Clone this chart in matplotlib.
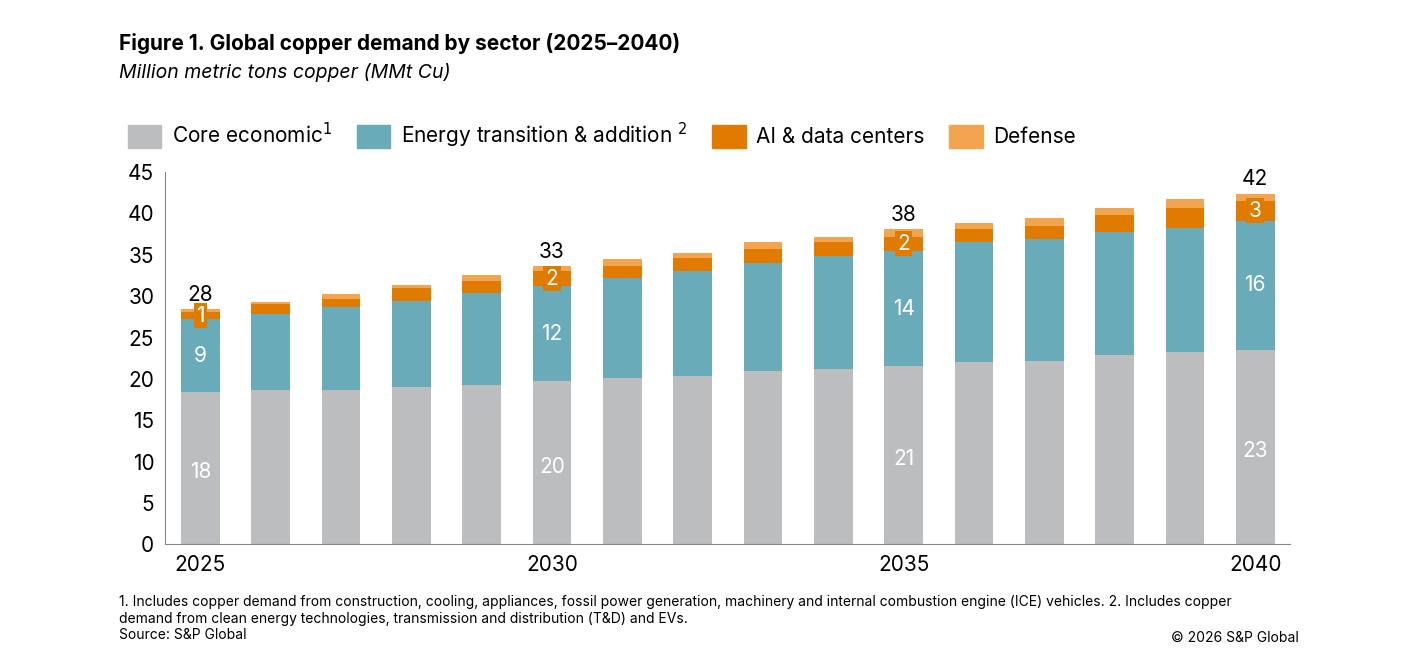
import matplotlib
matplotlib.use("Agg")
import matplotlib.pyplot as plt
import numpy as np

plt.rcParams['font.family'] = ['Inter', 'DejaVu Sans']

years = list(range(2025, 2041))
core = [18.4, 18.6, 18.6, 19.0, 19.2, 19.7, 20.1, 20.4, 20.9, 21.2, 21.5, 22.0, 22.1, 22.9, 23.2, 23.5]
energy = [8.8, 9.2, 10.1, 10.4, 11.2, 11.5, 12.1, 12.6, 13.1, 13.6, 14.0, 14.5, 14.8, 14.8, 15.1, 15.6]
ai = [0.9, 1.2, 1.0, 1.6, 1.4, 1.8, 1.5, 1.6, 1.7, 1.8, 1.7, 1.6, 1.6, 2.1, 2.4, 2.4]
defense = [0.3, 0.3, 0.5, 0.4, 0.7, 0.6, 0.8, 0.6, 0.8, 0.6, 0.9, 0.8, 0.9, 0.8, 1.0, 0.9]
labeled_years = [2025, 2030, 2035, 2040]
core_lbl = ["18", "20", "21", "23"]
energy_lbl = ["9", "12", "14", "16"]
ai_lbl = ["1", "2", "2", "3"]
total_lbl = ["28", "33", "38", "42"]

c_core, c_en, c_ai, c_def = "#BCBDBF", "#6AABBA", "#E07B00", "#F2A54E"

fig = plt.figure(figsize=(14.01, 6.67), dpi=100)
ax = fig.add_axes([0.118, 0.184, 0.803, 0.558])
x = np.array(years)
w = 0.55
core_a, en_a, ai_a, def_a = map(np.array, (core, energy, ai, defense))
ax.bar(x, core_a, w, color=c_core)
ax.bar(x, en_a, w, bottom=core_a, color=c_en)
ax.bar(x, ai_a, w, bottom=core_a + en_a, color=c_ai)
ax.bar(x, def_a, w, bottom=core_a + en_a + ai_a, color=c_def)

for i, yr in enumerate(labeled_years):
    k = years.index(yr)
    ax.text(yr, core_a[k] * 0.5 - 0.5, core_lbl[i], ha='center', va='center', color='white', fontsize=15)
    ax.text(yr, core_a[k] + en_a[k] * 0.5, energy_lbl[i], ha='center', va='center', color='white', fontsize=15)
    ym = core_a[k] + en_a[k] + ai_a[k] * 0.5
    ax.text(yr, ym, ai_lbl[i], ha='center', va='center', color='white', fontsize=15,
            bbox=dict(boxstyle='square,pad=0.12', fc=c_ai, ec='none'))
    tot = core_a[k] + en_a[k] + ai_a[k] + def_a[k]
    ax.text(yr, tot + 0.5, total_lbl[i], ha='center', va='bottom', color='black', fontsize=15)

ax.set_xlim(2024.5, 2040.5)
ax.set_ylim(0, 45)
ax.set_yticks(range(0, 46, 5))
ax.set_xticks(labeled_years)
ax.tick_params(axis='both', length=0, labelsize=15, pad=8)
for s in ['top', 'right']:
    ax.spines[s].set_visible(False)
for s in ['left', 'bottom']:
    ax.spines[s].set_color('#888888')

fig.text(0.085, 0.925, "Figure 1. Global copper demand by sector (2025–2040)", fontsize=15, fontweight='bold')
fig.text(0.085, 0.883, "Million metric tons copper (MMt Cu)", fontsize=14, style='italic')

from matplotlib.patches import Patch
handles = [Patch(color=c) for c in (c_core, c_en, c_ai, c_def)]
labels = ["Core economic$^{1}$", "Energy transition & addition $^{2}$", "AI & data centers", "Defense"]
fig.legend(handles, labels, loc='center left', bbox_to_anchor=(0.078, 0.797), ncol=4, frameon=False,
           fontsize=15, handlelength=1.6, handleheight=1.3, columnspacing=1.2, handletextpad=0.5)

fig.text(0.085, 0.108, "1. Includes copper demand from construction, cooling, appliances, fossil power generation, machinery and internal combustion engine (ICE) vehicles. 2. Includes copper\ndemand from clean energy technologies, transmission and distribution (T&D) and EVs.\nSource: S&P Global",
         fontsize=10, va='top', linespacing=1.25)
fig.text(0.927, 0.033, "© 2026 S&P Global", fontsize=10, ha='right', va='bottom')
fig.savefig("out.png", dpi=100)
